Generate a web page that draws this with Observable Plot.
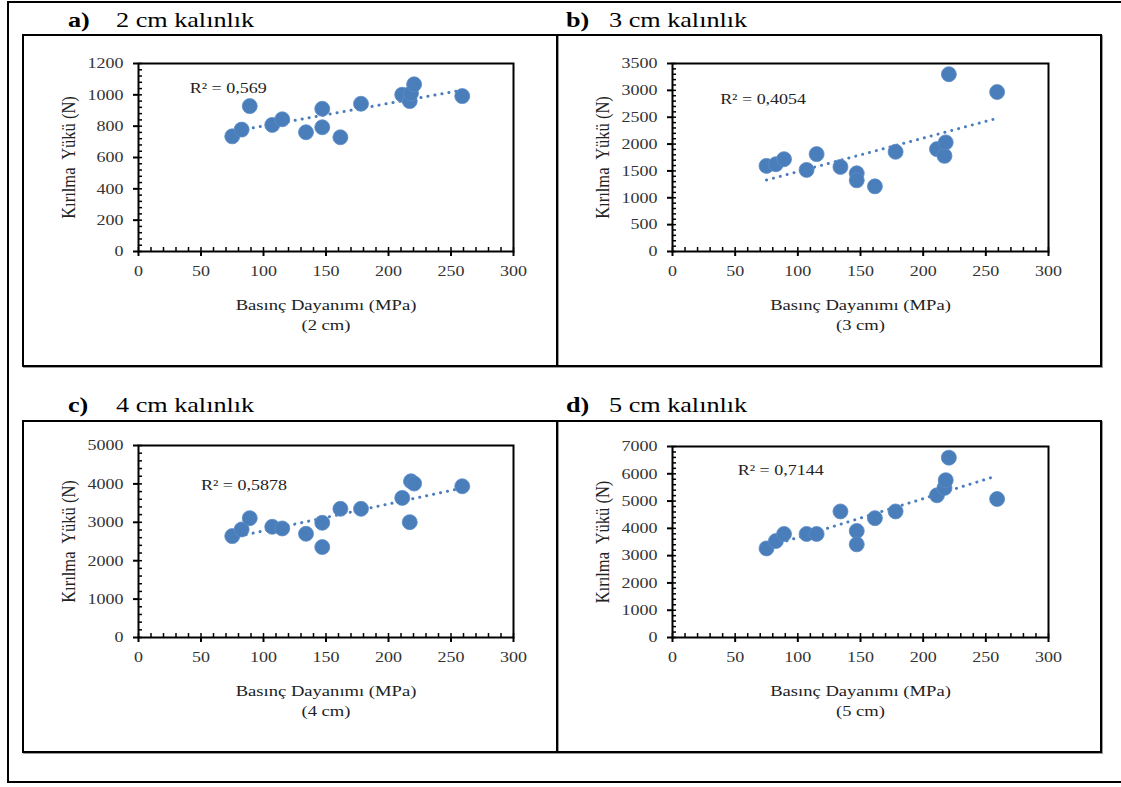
<!DOCTYPE html>
<html>
<head>
<meta charset="utf-8">
<script src="https://cdn.jsdelivr.net/npm/d3@7"></script>
<script src="https://cdn.jsdelivr.net/npm/@observablehq/plot@0.6"></script>
<style>
  html, body { margin: 0; padding: 0; background: #fff; }
  #page { position: relative; width: 1121px; height: 787px; overflow: hidden; background: #fff; font-family: "Liberation Serif", "Times New Roman", serif; }
  .outer { position: absolute; left: 7px; top: 1px; width: 1130px; height: 782px; box-sizing: border-box; border-left: 2px solid #000; border-top: 2px solid #000; border-bottom: 2px solid #000; }
  .box { position: absolute; box-sizing: border-box; border: 2px solid #000; box-shadow: 1px 1px 0 #9a9a9a; }
  .title { position: absolute; font-size: 22px; color: #000; white-space: pre; line-height: 1; transform: scaleX(1.19); transform-origin: left top; }
  .title b { font-weight: bold; }
  .chart { position: absolute; }
</style>
</head>
<body>
<div id="page">
  <div class="outer"></div>
</div>
<script>
// Compressive strength of the samples (MPa), shared by every thickness
const strength = [75, 82.5, 89, 107, 115, 134, 147, 147, 161.5, 178, 211, 217, 218, 220.5, 259];

// Breaking load (N) for each thickness
const load2cm = [735, 778, 928, 808, 844, 761, 911, 793, 729, 943, 1001, 960, 1010, 1067, 992];
const load3cm = [1594, 1625, 1719, 1519, 1813, 1575, 1456, 1325, 1213, 1856, 1906, 1781, 2031, 3300, 2969];
const load4cm = [2641, 2814, 3108, 2883, 2840, 2701, 2987, 2355, 3351, 3351, 3636, 3004, 4069, 4009, 3939];
const load5cm = [3265, 3536, 3795, 3795, 3795, 4620, 3905, 3413, 4374, 4620, 5211, 5482, 5766, 6591, 5076];

// Panel letters, thickness labels and the stated R² values
const letters = ["a)", "b)", "c)", "d)"];
const thicknesses = ["2 cm", "3 cm", "4 cm", "5 cm"];
const r2Labels = ["R² = 0,569", "R² = 0,4054", "R² = 0,5878", "R² = 0,7144"];

// Axis extents and major tick steps of the load axes
const yMaxes = [1200, 3500, 5000, 7000];
const yMajorSteps = [200, 500, 1000, 1000];
const xTicks = [0, 50, 100, 150, 200, 250, 300];

const xLabel = "Basınç Dayanımı (MPa)";
const yLabel = "Kırılma\u00a0 Yükü (N)";

const loads = [load2cm, load3cm, load4cm, load5cm];
const blue = "#4a7ebb";
const textWiden = 1.2; // wide serif lettering

// Page layout of the four boxed panels
const layout = [
  {left: 22, top: 34, width: 536, height: 333, mr: 45, mt: 29, mb: 116, tx: 68, ty: 9, tx2: 116, r2: [41, 1040]},
  {left: 556, top: 34, width: 546, height: 333, mr: 54, mt: 29, mb: 116, tx: 566, ty: 9, tx2: 609, r2: [38, 2840]},
  {left: 22, top: 420, width: 536, height: 333, mr: 45, mt: 25, mb: 116, tx: 68, ty: 394, tx2: 116, r2: [50, 3960]},
  {left: 556, top: 420, width: 546, height: 333, mr: 54, mt: 26, mb: 116, tx: 566, ty: 394, tx2: 609, r2: [52, 6150]}
];

const page = document.getElementById("page");

// Stretch every SVG label horizontally around its own anchor point
function widenText(svg) {
  svg.querySelectorAll("text").forEach(t => {
    const tr = t.getAttribute("transform") || "";
    if (/rotate/.test(tr)) {
      t.setAttribute("transform", tr + ` scale(1,${textWiden})`);
    } else if (/translate/.test(tr)) {
      t.setAttribute("transform", tr + ` scale(${textWiden},1)`);
    } else {
      const x = +(t.getAttribute("x") || 0), y = +(t.getAttribute("y") || 0);
      t.setAttribute("transform", `translate(${x},${y}) scale(${textWiden},1) translate(${-x},${-y})`);
    }
  });
}

layout.forEach((L, i) => {
  const rows = strength.map((s, j) => ({x: s, y: loads[i][j]}));
  const yMax = yMaxes[i];
  const step = yMajorSteps[i];

  const box = document.createElement("div");
  box.className = "box";
  Object.assign(box.style, {left: L.left + "px", top: L.top + "px", width: L.width + "px", height: L.height + "px"});
  page.appendChild(box);

  const title = document.createElement("div");
  title.className = "title";
  title.style.left = L.tx + "px";
  title.style.top = L.ty + "px";
  title.innerHTML = `<b>${letters[i]}</b>`;
  page.appendChild(title);
  const title2 = document.createElement("div");
  title2.className = "title";
  title2.style.left = L.tx2 + "px";
  title2.style.top = L.ty + "px";
  title2.textContent = `${thicknesses[i]} kalınlık`;
  page.appendChild(title2);

  const chart = Plot.plot({
    width: L.width,
    height: L.height,
    marginLeft: 116,
    marginRight: L.mr,
    marginTop: L.mt,
    marginBottom: L.mb,
    style: {fontFamily: "'Liberation Serif', serif", fontSize: "15px", color: "#333", background: "transparent", overflow: "visible"},
    x: {domain: [0, 300]},
    y: {domain: [0, yMax]},
    marks: [
      Plot.frame({stroke: "#000", strokeWidth: 2}),
      Plot.axisX({ticks: xTicks, tickSize: 5, tickPadding: 9, tickFormat: d3.format("d"), label: null, stroke: "#000", strokeWidth: 2}),
      Plot.axisX({ticks: d3.range(0, 301, 10), tickSize: -4, text: null, label: null, stroke: "#000", strokeWidth: 1.5}),
      Plot.axisY({ticks: d3.range(0, yMax + 1, step), tickSize: 5, tickPadding: 10, tickFormat: d3.format("d"), label: null, stroke: "#000", strokeWidth: 2}),
      Plot.axisY({ticks: d3.range(0, yMax + 1, step / 5), tickSize: -4, text: null, label: null, stroke: "#000", strokeWidth: 1.5}),
      Plot.linearRegressionY(rows, {x: "x", y: "y", ci: 0, stroke: blue, strokeWidth: 3, strokeDasharray: "0.1 7", strokeLinecap: "round"}),
      Plot.dot(rows, {x: "x", y: "y", r: 7.5, fill: blue, stroke: "#5b8cc7", strokeWidth: 0.8}),
      Plot.text([r2Labels[i]], {x: () => L.r2[0], y: () => L.r2[1], textAnchor: "start", fontSize: 15, fill: "#222"}),
      Plot.text([xLabel], {frameAnchor: "bottom", dy: 58, fontSize: 15.5, fill: "#222"}),
      Plot.text([`(${thicknesses[i]})`], {frameAnchor: "bottom", dy: 78, fontSize: 15.5, fill: "#222"}),
      Plot.text([yLabel], {frameAnchor: "left", textAnchor: "middle", lineAnchor: "middle", rotate: -90, dx: -70, fontSize: 16.5, fill: "#222"})
    ]
  });
  widenText(chart);
  chart.classList.add("chart");
  chart.style.left = L.left + "px";
  chart.style.top = L.top + "px";
  page.appendChild(chart);
});
</script>
</body>
</html>
